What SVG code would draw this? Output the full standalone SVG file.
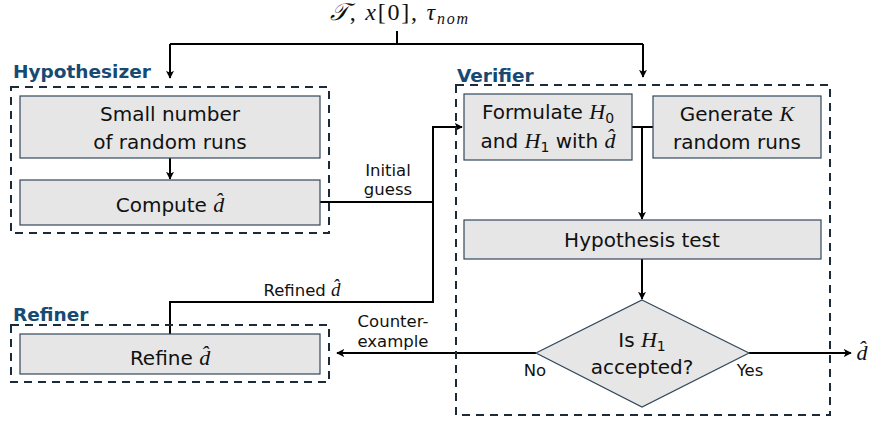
<svg xmlns="http://www.w3.org/2000/svg" width="870" height="422" viewBox="0 0 870 422">
<style>
.bg{fill:#ffffff}
.box{fill:#e6e6e6;stroke:#33475b;stroke-width:1.2}
.grp{fill:none;stroke:#1c2b3a;stroke-width:2;stroke-dasharray:8,6}
.title{font-family:"DejaVu Sans",sans-serif;font-weight:bold;font-size:18.5px;fill:#174a72}
.t{font-family:"DejaVu Sans",sans-serif;font-size:20px;fill:#111;text-anchor:middle}
.s{font-family:"DejaVu Sans",sans-serif;font-size:16.5px;fill:#111;text-anchor:middle}
.m{font-family:"Liberation Serif","DejaVu Serif",serif;font-style:italic}
.conn{fill:none;stroke:#000;stroke-width:2}
</style>
<defs>
<marker id="arr" viewBox="0 0 10 10" refX="9" refY="5" markerWidth="8" markerHeight="8" markerUnits="userSpaceOnUse" orient="auto">
<path d="M0,0 L10,5 L0,10 L2.5,5 z" fill="#000"/>
</marker>
</defs>
<rect class="bg" x="0" y="0" width="870" height="422"/>

<g id="connectors">
<path class="conn" d="M397,31 V44"/>
<path class="conn" d="M170,44 H643"/>
<path class="conn" d="M170,44 V78" marker-end="url(#arr)"/>
<path class="conn" d="M643,44 V77" marker-end="url(#arr)"/>
<path class="conn" d="M170,158 V179" marker-end="url(#arr)"/>
<path class="conn" d="M320,202 H433"/>
<path class="conn" d="M170,334 V302 H433 V127 H462" marker-end="url(#arr)"/>
<path class="conn" d="M632,127 H653"/>
<path class="conn" d="M642,127 V219" marker-end="url(#arr)"/>
<path class="conn" d="M642,259 V299" marker-end="url(#arr)"/>
<path class="conn" d="M536,353 H337" marker-end="url(#arr)"/>
<path class="conn" d="M749,353 H851" marker-end="url(#arr)"/>
<text class="s" x="388" y="176">Initial</text>
<text class="s" x="388" y="195">guess</text>
<text class="s" x="302" y="296">Refined <tspan class="m" font-size="19px">d̂</tspan></text>
<text class="s" x="393" y="327">Counter-</text>
<text class="s" x="393" y="347">example</text>
<text class="s" x="535" y="376">No</text>
<text class="s" x="750" y="376">Yes</text>
</g>

<g id="input">
<text x="330" y="20" textLength="138" lengthAdjust="spacing" font-family="Liberation Serif,DejaVu Serif,serif" font-size="24px" fill="#111"><tspan font-style="italic">𝒯</tspan>, <tspan font-style="italic">x</tspan>[0], <tspan font-style="italic">τ</tspan><tspan font-style="italic" font-size="16px" dy="4">nom</tspan></text>
</g>

<g id="hypothesizer">
<rect class="grp" x="11" y="87" width="318" height="146"/>
<text class="title" x="13" y="78">Hypothesizer</text>
</g>
<g id="small-runs">
<rect class="box" x="20" y="96" width="300" height="62"/>
<text class="t" x="170" y="121">Small number</text>
<text class="t" x="170" y="149">of random runs</text>
</g>
<g id="compute">
<rect class="box" x="20" y="180" width="300" height="45"/>
<text class="t" x="170" y="212">Compute <tspan class="m" font-size="22px">d̂</tspan></text>
</g>

<g id="refiner">
<rect class="grp" x="11" y="325" width="318" height="57"/>
<text class="title" x="13" y="321">Refiner</text>
</g>
<g id="refine">
<rect class="box" x="20" y="334" width="300" height="40"/>
<text class="t" x="170" y="365">Refine <tspan class="m" font-size="22px">d̂</tspan></text>
</g>

<g id="verifier">
<rect class="grp" x="456" y="85" width="374" height="330"/>
<text class="title" x="457" y="82">Verifier</text>
</g>
<g id="formulate">
<rect class="box" x="464" y="94" width="168" height="66"/>
<text class="t" x="548" y="119">Formulate <tspan class="m" font-size="22px">H</tspan><tspan font-size="14px" dy="4">0</tspan></text>
<text class="t" x="548" y="148">and <tspan class="m" font-size="22px">H</tspan><tspan font-size="14px" dy="4">1</tspan><tspan dy="-4"> with </tspan><tspan class="m" font-size="22px">d̂</tspan></text>
</g>
<g id="generate">
<rect class="box" x="653" y="96" width="168" height="62"/>
<text class="t" x="737" y="121">Generate <tspan class="m" font-size="22px">K</tspan></text>
<text class="t" x="737" y="149">random runs</text>
</g>
<g id="hypothesis-test">
<rect class="box" x="464" y="220" width="357" height="39"/>
<text class="t" x="642" y="247">Hypothesis test</text>
</g>
<g id="decision">
<polygon class="box" points="642,300 749,353 642,407 536,353"/>
<text class="t" x="642" y="347">Is <tspan class="m" font-size="22px">H</tspan><tspan font-size="14px" dy="4">1</tspan></text>
<text class="t" x="642" y="374">accepted?</text>
</g>
<g id="output">
<text x="862" y="360" text-anchor="middle" font-family="Liberation Serif,DejaVu Serif,serif" font-style="italic" font-size="22px" fill="#111">d̂</text>
</g>
</svg>
